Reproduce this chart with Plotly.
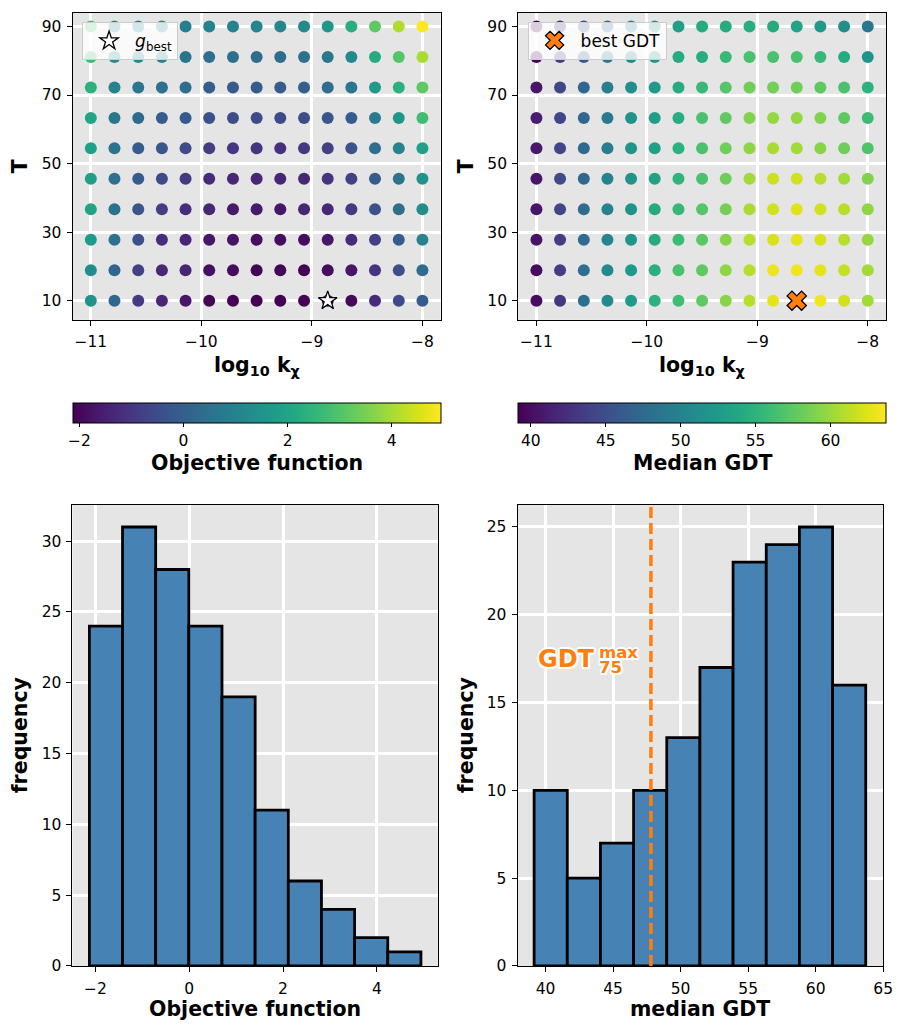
import numpy as np
import plotly.graph_objects as go

W, H = 904, 1030
FONT = "DejaVu Sans"

# Parameter grid: log10 of k_chi (columns) and T (rows, listed top to bottom)
log_k = [-11.0, -10.786, -10.571, -10.357, -10.143, -9.929, -9.714, -9.5,
         -9.286, -9.071, -8.857, -8.643, -8.429, -8.214, -8.0]
T_rows = [90.0, 81.11, 72.22, 63.33, 54.44, 45.56, 36.67, 27.78, 18.89, 10.0]

# Objective function on the grid (rows follow T_rows)
objective = [
    [2.89, 1.33, 1.05, 1.05, 0.84, 0.98, 0.98, 1.05, 1.12, 1.19, 1.55, 2.25, 3.17, 4.09, 4.94],
    [2.68, 1.26, 1.19, 1.05, 0.56, 0.42, 0.42, 0.34, 0.34, 0.49, 0.63, 1.19, 2.18, 3.03, 4.02],
    [2.39, 0.98, 0.63, 0.49, 0.34, -0.05, -0.10, -0.12, -0.10, -0.04, 0.34, 0.63, 1.69, 2.39, 3.17],
    [2.04, 0.63, 0.27, -0.08, -0.15, -0.36, -0.50, -0.57, -0.57, -0.50, -0.29, -0.08, 0.77, 1.55, 2.75],
    [1.90, 0.56, -0.08, -0.29, -0.57, -0.86, -1.00, -1.07, -1.14, -1.00, -0.79, -0.36, 0.34, 1.05, 1.90],
    [1.83, 0.49, -0.08, -0.57, -0.93, -1.28, -1.35, -1.38, -1.37, -1.35, -1.07, -0.79, -0.08, 0.56, 1.48],
    [1.97, 0.49, -0.29, -0.86, -1.21, -1.36, -1.64, -1.64, -1.71, -1.38, -1.35, -0.93, -0.36, 0.42, 1.33],
    [1.69, 0.49, -0.43, -1.21, -1.38, -1.71, -1.78, -1.85, -1.92, -1.92, -1.71, -1.28, -0.79, -0.08, 0.98],
    [1.33, 0.20, -0.79, -1.35, -1.38, -1.85, -1.92, -2.06, -2.06, -2.11, -1.92, -1.71, -1.07, -0.43, 0.34],
    [1.48, 0.20, -0.93, -1.38, -1.71, -2.06, -2.10, -2.11, -2.12, -2.12, -2.13, -1.99, -1.28, -0.57, -0.08],
]

# Median GDT on the same grid
median_gdt = [
    [39.64, 42.10, 45.29, 47.75, 50.20, 51.68, 53.15, 54.13, 54.13, 54.38, 54.13, 53.39, 52.41, 51.18, 48.73],
    [39.15, 43.57, 46.27, 49.22, 50.69, 51.92, 54.13, 54.38, 55.61, 56.59, 56.59, 56.59, 55.61, 54.13, 51.68],
    [40.62, 44.31, 47.25, 49.47, 50.94, 52.41, 54.13, 55.61, 57.08, 58.31, 58.55, 58.31, 57.57, 56.59, 54.87],
    [41.11, 44.31, 47.25, 49.22, 51.68, 52.90, 54.38, 56.59, 57.57, 59.04, 59.78, 59.78, 59.04, 57.57, 55.85],
    [40.87, 44.31, 47.50, 49.47, 51.68, 53.15, 54.87, 56.59, 58.31, 59.53, 60.52, 60.27, 59.29, 58.31, 56.83],
    [40.62, 44.55, 47.25, 49.96, 51.68, 53.15, 55.11, 56.59, 58.31, 60.27, 61.75, 61.99, 61.01, 60.27, 59.04],
    [40.62, 44.31, 47.75, 49.96, 51.68, 54.13, 55.61, 57.08, 58.55, 60.52, 61.99, 62.48, 61.99, 61.01, 59.53],
    [40.38, 43.57, 47.75, 50.20, 51.92, 54.13, 55.85, 57.32, 59.29, 61.01, 62.24, 62.73, 62.24, 61.01, 59.78],
    [39.89, 43.57, 47.99, 50.69, 52.41, 54.62, 56.59, 57.57, 59.53, 61.01, 62.97, 63.22, 62.73, 61.50, 60.27],
    [39.89, 43.08, 47.99, 50.69, 52.66, 54.87, 56.10, 57.57, 59.29, 61.01, 62.73, 63.71, 63.22, 61.99, 60.27],
]

gdt75_max = 47.8  # GDT_75^max threshold

VIRIDIS = [
    "#440154", "#471365", "#482475", "#463480", "#414487", "#3b528b", "#355f8d",
    "#2f6c8e", "#2a788e", "#25848e", "#21918c", "#1e9c89", "#22a884", "#2fb47c",
    "#44bf70", "#5ec962", "#7ad151", "#9bd93c", "#bddf26", "#dfe318", "#fde725",
]
viridis_scale = [[i / (len(VIRIDIS) - 1), c] for i, c in enumerate(VIRIDIS)]

def px_x(p):
    return p / W

def px_y(p):
    return 1 - p / H

kx, ty = np.meshgrid(np.array(log_k), np.array(T_rows))
obj = np.array(objective)
gdt = np.array(median_gdt)

fig = go.Figure()

# --- top-left: objective function over the grid
fig.add_trace(go.Scatter(
    x=kx.ravel(), y=ty.ravel(), mode="markers", xaxis="x", yaxis="y", showlegend=False,
    marker=dict(size=12, color=obj.ravel(), colorscale=viridis_scale,
                cmin=obj.min(), cmax=obj.max(), line=dict(width=0),
                colorbar=dict(orientation="h", x=px_x(259.5), xanchor="center",
                              y=px_y(406.7), yanchor="top", len=372.2 / W, lenmode="fraction",
                              thickness=20, thicknessmode="pixels", xpad=0, ypad=0,
                              outlinecolor="black", outlinewidth=1,
                              ticks="outside", ticklen=4, tickcolor="black",
                              tickvals=[-2, 0, 2, 4], ticktext=["\u22122", "0", "2", "4"],
                              tickfont=dict(family=FONT, size=15.5, color="black"))),
))
ib = np.unravel_index(np.argmin(obj), obj.shape)
fig.add_trace(go.Scatter(
    x=[kx[ib]], y=[ty[ib]], mode="markers", xaxis="x", yaxis="y",
    name="<i>g</i><sub>best</sub>", legend="legend",
    marker=dict(symbol="star", size=14, color="white", line=dict(color="black", width=1.3)),
))

# --- top-right: median GDT over the grid
fig.add_trace(go.Scatter(
    x=kx.ravel(), y=ty.ravel(), mode="markers", xaxis="x2", yaxis="y2", showlegend=False,
    marker=dict(size=12, color=gdt.ravel(), colorscale=viridis_scale,
                cmin=gdt.min(), cmax=gdt.max(), line=dict(width=0),
                colorbar=dict(orientation="h", x=px_x(709.95), xanchor="center",
                              y=px_y(406.7), yanchor="top", len=371.9 / W, lenmode="fraction",
                              thickness=20, thicknessmode="pixels", xpad=0, ypad=0,
                              outlinecolor="black", outlinewidth=1,
                              ticks="outside", ticklen=4, tickcolor="black",
                              tickvals=[40, 45, 50, 55, 60],
                              tickfont=dict(family=FONT, size=15.5, color="black"))),
))
ig = np.unravel_index(np.argmax(gdt), gdt.shape)
fig.add_trace(go.Scatter(
    x=[kx[ig]], y=[ty[ig]], mode="markers", xaxis="x2", yaxis="y2",
    name="best GDT", legend="legend2",
    marker=dict(symbol="x", size=17, color="#ff7f0e", line=dict(color="black", width=1.3)),
))

# --- bottom: histograms of both quantities
def add_hist(values, xa, ya):
    counts, edges = np.histogram(values.ravel(), bins=10)
    centers = (edges[:-1] + edges[1:]) / 2
    fig.add_trace(go.Bar(
        x=centers, y=counts, width=np.diff(edges), xaxis=xa, yaxis=ya, showlegend=False,
        marker=dict(color="#4682b4", line=dict(color="black", width=2.8)),
    ))

add_hist(obj, "x3", "y3")
add_hist(gdt, "x4", "y4")

fig.add_shape(type="line", xref="x4", yref="y4 domain", x0=gdt75_max, x1=gdt75_max,
              y0=0, y1=1, line=dict(color="#ff7f0e", width=3.5, dash="11px,5px"))

axis_style = dict(showgrid=True, gridcolor="white", gridwidth=3, zeroline=False,
                  showline=True, linecolor="black", linewidth=1, mirror=True,
                  ticks="outside", ticklen=5, tickcolor="black", tickwidth=1,
                  tickfont=dict(family=FONT, size=15.5, color="black"))
xstyle = dict(axis_style, ticklabelstandoff=3)
ystyle = dict(axis_style, ticklabelstandoff=2)

kx_ticks = dict(tickvals=[-11, -10, -9, -8], ticktext=["\u221211", "\u221210", "\u22129", "\u22128"])
t_ticks = dict(tickvals=[10, 30, 50, 70, 90])

legend_style = dict(xanchor="left", yanchor="top", itemwidth=42,
                    bgcolor="rgba(255,255,255,0.8)", bordercolor="#cccccc", borderwidth=1,
                    font=dict(family=FONT, size=17, color="black"))

fig.update_layout(
    width=W, height=H, margin=dict(l=0, r=0, t=0, b=0),
    paper_bgcolor="white", plot_bgcolor="#e5e5e5",
    font=dict(family=FONT, color="black"),
    xaxis=dict(xstyle, domain=[px_x(73.4), px_x(445.6)], range=[-11.165, -7.835], anchor="y", **kx_ticks),
    yaxis=dict(ystyle, domain=[px_y(322.7), px_y(12.7)], range=[4.4, 94.05], anchor="x", **t_ticks),
    xaxis2=dict(xstyle, domain=[px_x(524), px_x(895.9)], range=[-11.165, -7.835], anchor="y2", **kx_ticks),
    yaxis2=dict(ystyle, domain=[px_y(322.7), px_y(12.7)], range=[4.4, 94.05], anchor="x2", **t_ticks),
    xaxis3=dict(xstyle, domain=[px_x(73.3), px_x(442.7)], range=[-2.49, 5.30], anchor="y3",
                tickvals=[-2, 0, 2, 4], ticktext=["\u22122", "0", "2", "4"]),
    yaxis3=dict(ystyle, domain=[px_y(974.5), px_y(509.5)], range=[0, 32.55], anchor="x3",
                tickvals=[0, 5, 10, 15, 20, 25, 30]),
    xaxis4=dict(xstyle, domain=[px_x(523.3), px_x(893.3)], range=[37.92, 65.02], anchor="y4",
                tickvals=[40, 45, 50, 55, 60, 65]),
    yaxis4=dict(ystyle, domain=[px_y(974.5), px_y(509.5)], range=[0, 26.25], anchor="x4",
                tickvals=[0, 5, 10, 15, 20, 25]),
    legend=dict(legend_style, x=px_x(83), y=px_y(22.5)),
    legend2=dict(legend_style, x=px_x(533.5), y=px_y(22)),
)

TITLE = dict(family=FONT, size=20.5, color="black")
ann = [
    dict(text="<b>log<sub>10</sub> k<sub>\u03c7</sub></b>", x=259.5, y=369),
    dict(text="<b>log<sub>10</sub> k<sub>\u03c7</sub></b>", x=710, y=369),
    dict(text="<b>Objective function</b>", x=259.5, y=467),
    dict(text="<b>Median GDT</b>", x=710, y=467),
    dict(text="<b>Objective function</b>", x=258, y=1018),
    dict(text="<b>median GDT</b>", x=708, y=1018),
    dict(text="<b>T</b>", x=20, y=168, textangle=-90),
    dict(text="<b>T</b>", x=471, y=168, textangle=-90),
    dict(text="<b>frequency</b>", x=20, y=742, textangle=-90),
    dict(text="<b>frequency</b>", x=471, y=742, textangle=-90),
]
for a in ann:
    fig.add_annotation(text=a["text"], x=px_x(a["x"]), y=px_y(a["y"]), xref="paper", yref="paper",
                       xanchor="center", yanchor="middle", showarrow=False,
                       textangle=a.get("textangle", 0), font=TITLE)

halo = ", ".join(f"{dx}px {dy}px 0 white" for dx, dy in
                 [(-2, 0), (2, 0), (0, -2), (0, 2), (-1.5, -1.5), (1.5, -1.5), (-1.5, 1.5), (1.5, 1.5)])
ORANGE = "#ff7f0e"
fig.add_annotation(text="<b>GDT</b>", x=px_x(604), y=px_y(664.5), xref="paper", yref="paper",
                   xanchor="right", yanchor="middle", showarrow=False,
                   font=dict(family=FONT, size=24, color=ORANGE, shadow=halo))
fig.add_annotation(text="<b>max</b>", x=px_x(604), y=px_y(658), xref="paper", yref="paper",
                   xanchor="left", yanchor="middle", showarrow=False,
                   font=dict(family=FONT, size=16.5, color=ORANGE, shadow=halo))
fig.add_annotation(text="<b>75</b>", x=px_x(604), y=px_y(673.5), xref="paper", yref="paper",
                   xanchor="left", yanchor="middle", showarrow=False,
                   font=dict(family=FONT, size=16.5, color=ORANGE, shadow=halo))

fig.write_html("out.html")
